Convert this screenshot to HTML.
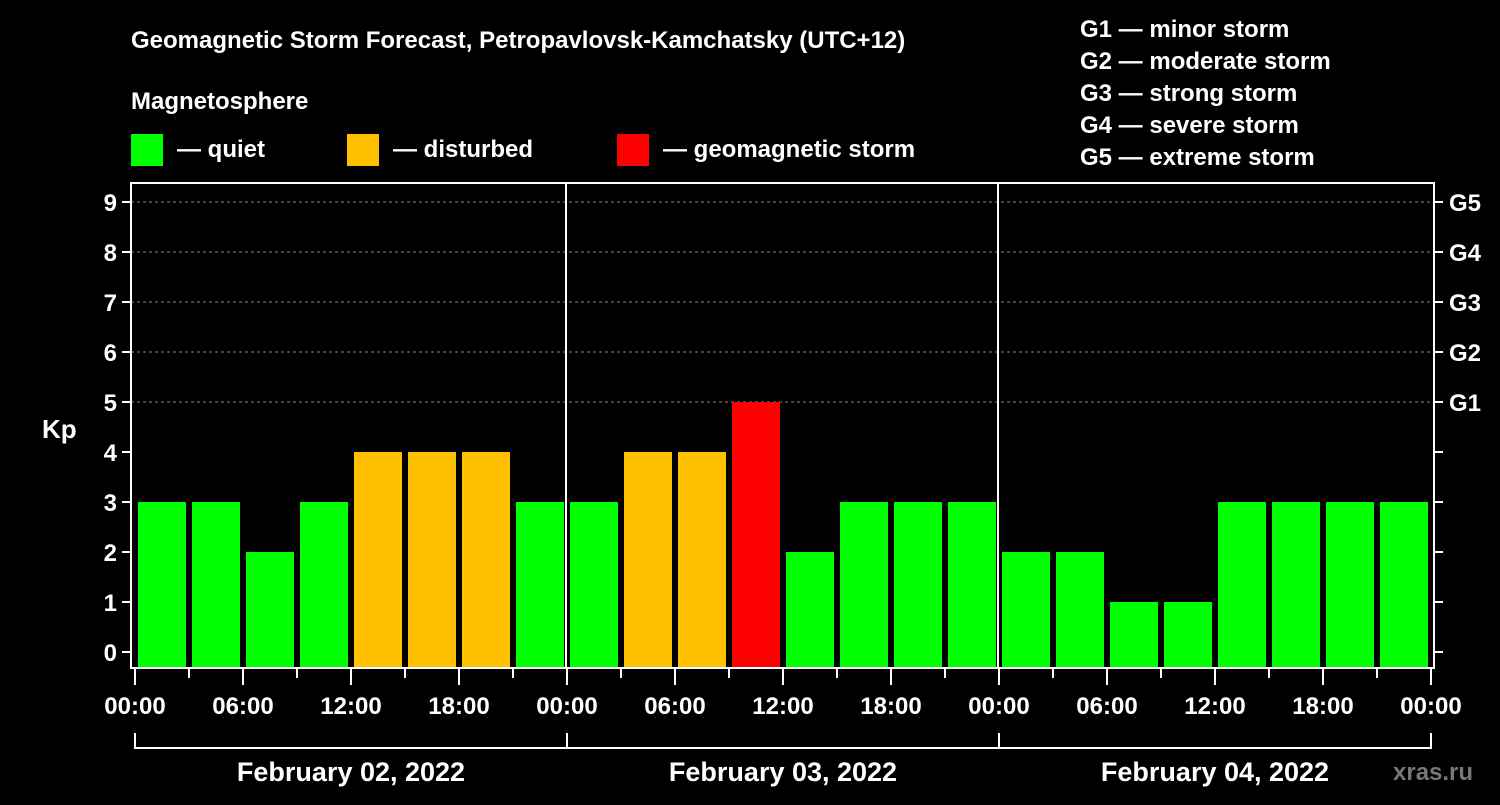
<!DOCTYPE html>
<html><head><meta charset="utf-8"><style>
body{margin:0;background:#000;width:1500px;height:800px;overflow:hidden}
svg text{font-family:"Liberation Sans",Arial,sans-serif;font-weight:bold;fill:#fff}
</style></head><body>
<svg id="c" width="1500" height="800" xmlns="http://www.w3.org/2000/svg">
<text x="131" y="48" font-size="24">Geomagnetic Storm Forecast, Petropavlovsk-Kamchatsky (UTC+12)</text>
<text x="131" y="109" font-size="24">Magnetosphere</text>
<g><rect x="131" y="134" width="32" height="32" fill="#00ff00"/><text x="177" y="157" font-size="24">— quiet</text></g>
<g><rect x="347" y="134" width="32" height="32" fill="#ffc000"/><text x="393" y="157" font-size="24">— disturbed</text></g>
<g><rect x="617" y="134" width="32" height="32" fill="#ff0000"/><text x="663" y="157" font-size="24">— geomagnetic storm</text></g>
<g font-size="24">
<text x="1080" y="37">G1 — minor storm</text><text x="1080" y="69">G2 — moderate storm</text><text x="1080" y="101">G3 — strong storm</text><text x="1080" y="133">G4 — severe storm</text><text x="1080" y="165">G5 — extreme storm</text></g>
<text x="42" y="438" font-size="26">Kp</text>
<text x="1393" y="780" font-size="24" fill="#666" style="fill:#777">xras.ru</text>
<g id="plot"></g>
</svg>
<script>
const dates=["February 02, 2022","February 03, 2022","February 04, 2022"];
const kp=[3,3,2,3,4,4,4,3, 3,4,4,5,2,3,3,3, 2,2,1,1,3,3,3,3];
const yTicks=[0,1,2,3,4,5,6,7,8,9];
const gLabels=["G1","G2","G3","G4","G5"];
const xLabels=["00:00","06:00","12:00","18:00"];
const NS="http://www.w3.org/2000/svg",plot=document.getElementById("plot");
const L=131,R=1434,T=183,B=668,X0=135,slot=54;
const y=v=>652-50*v, x=i=>X0+i*slot;
function el(t,a){const e=document.createElementNS(NS,t);for(const k in a)e.setAttribute(k,a[k]);plot.appendChild(e);return e;}
yTicks.forEach(v=>{
 if(v>=5){const g=el("line",{x1:L,x2:R,y1:y(v),y2:y(v),stroke:"#888","stroke-dasharray":"3,3"});}
 const t=el("line",{x1:L-9,x2:L,y1:y(v),y2:y(v),stroke:"#fff","stroke-width":2});
 const t2=el("line",{x1:R,x2:R+9,y1:y(v),y2:y(v),stroke:"#fff","stroke-width":2});
 const tx=el("text",{x:L-14,y:y(v)+9,"font-size":24,"text-anchor":"end"});tx.textContent=v;
});
gLabels.forEach((g,i)=>{const tx=el("text",{x:1449,y:y(5+i)+9,"font-size":24});tx.textContent=g;});
kp.forEach((v,i)=>{
 const c=v>=5?"#ff0000":v>=4?"#ffc000":"#00ff00";
 const r=el("rect",{x:x(i)+3,y:y(v),width:48,height:B-y(v),fill:c});
 
});
for(let d=1;d<dates.length;d++){const s=el("line",{x1:x(d*8)-1,x2:x(d*8)-1,y1:T,y2:B,stroke:"#fff","stroke-width":2});}
const fr=el("rect",{x:L,y:T,width:R-L,height:B-T,fill:"none",stroke:"#fff","stroke-width":2});
for(let i=0;i<=kp.length;i++){
 const major=i%2==0;
 const t=el("line",{x1:x(i),x2:x(i),y1:B,y2:B+(major?17:10),stroke:"#fff","stroke-width":2});
 if(major){const tx=el("text",{x:x(i),y:714,"font-size":24,"text-anchor":"middle"});tx.textContent=xLabels[(i/2)%4];}
}
dates.forEach((d,k)=>{
 const a=x(k*8),b=x(k*8+8);
 const p=el("path",{d:`M${a} 733V748H${b}V733`,fill:"none",stroke:"#fff","stroke-width":2});
 const tx=el("text",{x:(a+b)/2,y:781,"font-size":27,"text-anchor":"middle"});tx.textContent=d;
});
</script>
</body></html>
